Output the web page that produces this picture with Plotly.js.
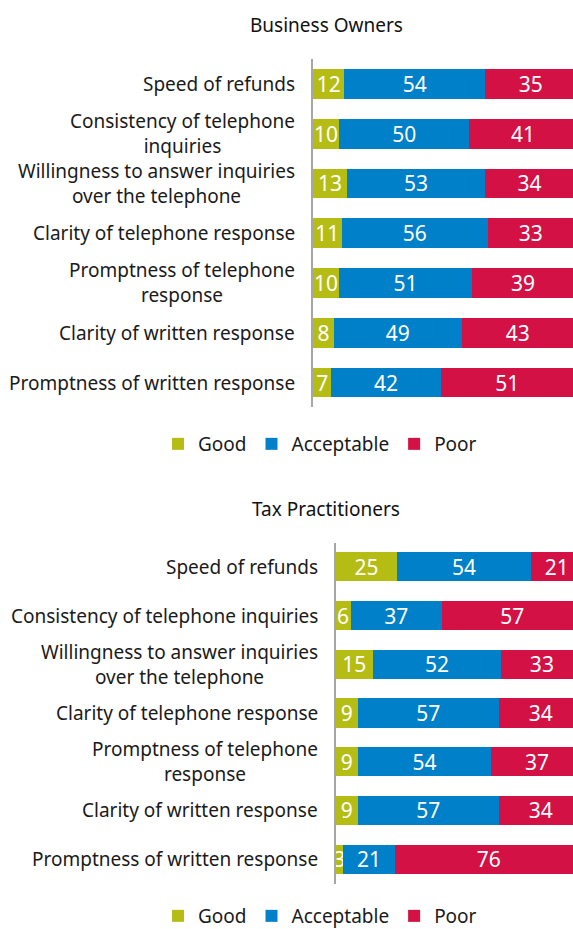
<!DOCTYPE html>
<html>
<head>
<meta charset="utf-8">
<script src="https://cdn.plot.ly/plotly-3.0.1.min.js"></script>
<style>html,body{margin:0;padding:0;background:#fff;overflow:hidden;width:573px;height:929px;}#chart{width:573px;height:929px;overflow:hidden;}</style>
</head>
<body>
<div id="chart"></div>
<script>
// ---- data ----
const seriesNames = ["Good", "Acceptable", "Poor"];
const seriesColors = ["#b5bd14", "#0080c8", "#d31145"];

const ownersTitle = "Business Owners";
const ownersCategories = [
  "Speed of refunds",
  "Consistency of telephone<br>inquiries",
  "Willingness to answer inquiries<br>over the telephone",
  "Clarity of telephone response",
  "Promptness of telephone<br>response",
  "Clarity of written response",
  "Promptness of written response"
];
const ownersGood       = [12, 10, 13, 11, 10, 8, 7];
const ownersAcceptable = [54, 50, 53, 56, 51, 49, 42];
const ownersPoor       = [35, 41, 34, 33, 39, 43, 51];

const practTitle = "Tax Practitioners";
const practCategories = [
  "Speed of refunds",
  "Consistency of telephone inquiries",
  "Willingness to answer inquiries<br>over the telephone",
  "Clarity of telephone response",
  "Promptness of telephone<br>response",
  "Clarity of written response",
  "Promptness of written response"
];
const practGood       = [25, 6, 15, 9, 9, 9, 3];
const practAcceptable = [54, 37, 52, 57, 54, 57, 21];
const practPoor       = [21, 57, 33, 34, 37, 34, 76];

// ---- build ----
const FONT = "Noto Sans, Open Sans, sans-serif";
const TXT = "#1a1a1a";
const H = 929, W = 573;
const py = p => 1 - p / H;

function makeTraces(cats, vals, xa, ya, leg) {
  return vals.map((v, i) => ({
    type: "bar",
    orientation: "h",
    name: seriesNames[i],
    x: v,
    y: cats,
    xaxis: xa,
    yaxis: ya,
    legend: leg,
    marker: {color: seriesColors[i], line: {width: 0}},
    text: v.map(String),
    texttemplate: "%{text}",
    textposition: "inside",
    insidetextanchor: "middle",
    textangle: 0,
    textfont: {color: "#ffffff", size: 21, family: FONT},
    hoverinfo: "x+y+name"
  }));
}

const data = [
  ...makeTraces(ownersCategories, [ownersGood, ownersAcceptable, ownersPoor], "x", "y", "legend"),
  ...makeTraces(practCategories, [practGood, practAcceptable, practPoor], "x2", "y2", "legend2")
];

function labelAnns(cats, yref, xref) {
  return cats.map(c => ({
    text: c, x: 0, xref: xref + " domain", y: c, yref: yref,
    xanchor: "right", yanchor: "middle", align: "center", xshift: -16,
    showarrow: false, font: {size: 19, color: TXT, family: FONT}
  }));
}

const axisY = {
  type: "category", autorange: "reversed", showticklabels: false,
  showline: true, linecolor: "#a6a6a6", linewidth: 1.5, ticks: "",
  showgrid: false, zeroline: false, fixedrange: true
};
const axisX = {showline: false, showgrid: false, zeroline: false, showticklabels: false, ticks: "", fixedrange: true};

const legendBase = {
  orientation: "h", x: 320 / W, xanchor: "center", yanchor: "middle",
  font: {size: 19, color: TXT, family: FONT}, itemclick: false, itemdoubleclick: false,
  traceorder: "normal", bgcolor: "rgba(0,0,0,0)"
};

const layout = {
  width: W, height: H,
  margin: {l: 0, r: 0, t: 0, b: 0, autoexpand: false},
  paper_bgcolor: "#fff", plot_bgcolor: "#fff",
  barmode: "stack",
  bargap: 0.4,
  font: {family: FONT, color: TXT, size: 19},
  uniformtext: {mode: "show", minsize: 21},
  xaxis:  Object.assign({}, axisX, {domain: [313 / W, 1], range: [0, 99.7], anchor: "y"}),
  yaxis:  Object.assign({}, axisY, {domain: [py(407.4), py(59)], anchor: "x"}),
  xaxis2: Object.assign({}, axisX, {domain: [335.7 / W, 1], range: [0, 96.1], anchor: "y2"}),
  yaxis2: Object.assign({}, axisY, {domain: [py(883.5), py(542.5)], anchor: "x2"}),
  legend:  Object.assign({}, legendBase, {y: py(444)}),
  legend2: Object.assign({}, legendBase, {y: py(916)}),
  showlegend: true,
  annotations: [
    {text: ownersTitle, x: 326 / W, xref: "paper", y: py(25), yref: "paper", xanchor: "center", yanchor: "middle",
     showarrow: false, font: {size: 19, color: "#111", family: FONT}},
    {text: practTitle, x: 326 / W, xref: "paper", y: py(509), yref: "paper", xanchor: "center", yanchor: "middle",
     showarrow: false, font: {size: 19, color: "#111", family: FONT}},
    ...labelAnns(ownersCategories, "y", "x"),
    ...labelAnns(practCategories, "y2", "x2")
  ]
};

Plotly.newPlot("chart", data, layout, {displayModeBar: false});
</script>
</body>
</html>
